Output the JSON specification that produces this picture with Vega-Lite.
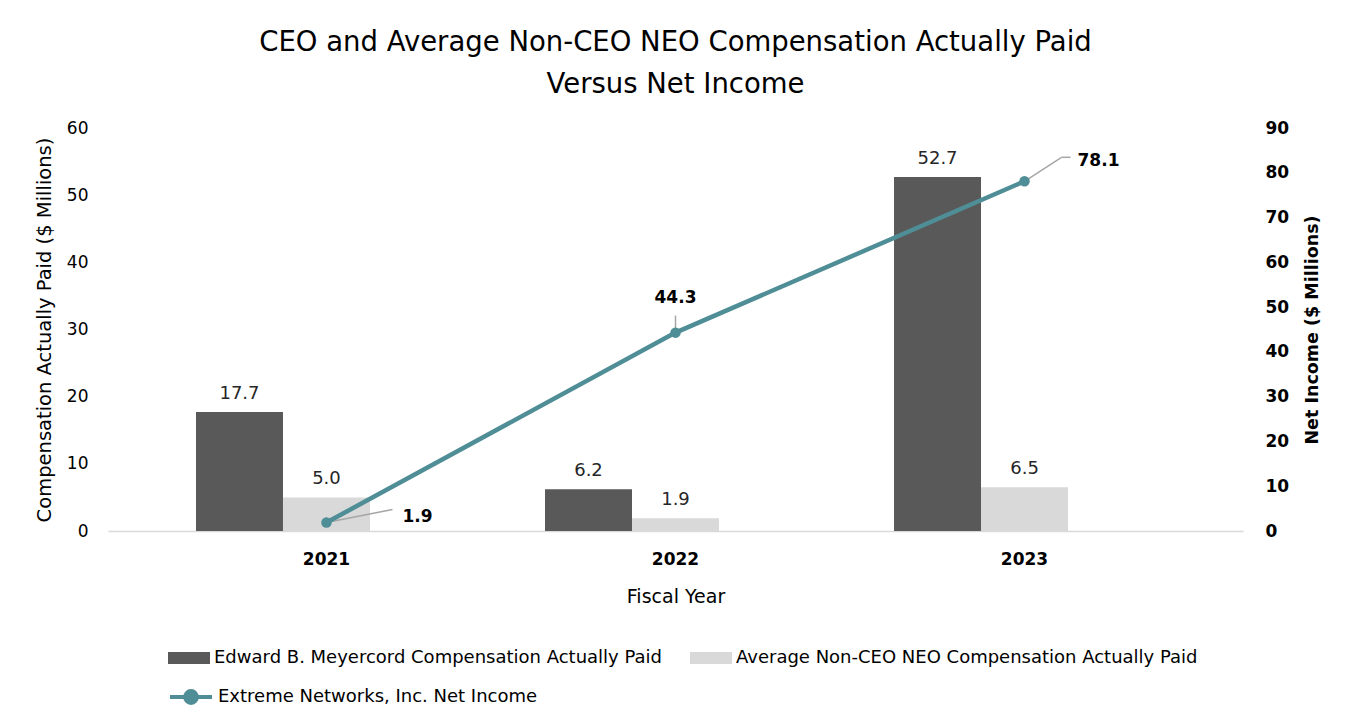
{
  "$schema": "https://vega.github.io/schema/vega-lite/v6.json",
  "width": 1135,
  "height": 403,
  "autosize": {"type": "none"},
  "padding": {"left": 108, "top": 128, "right": 110, "bottom": 196},
  "background": "white",
  "title": {
    "text": ["CEO and Average Non-CEO NEO Compensation Actually Paid", "Versus Net Income"],
    "fontSize": 27.5,
    "fontWeight": "normal",
    "color": "#000000",
    "lineHeight": 42,
    "anchor": "middle",
    "offset": 21
  },
  "datasets": {
    "comp": [
      {"year": "2021", "series": "Edward B. Meyercord Compensation Actually Paid", "value": 17.7},
      {"year": "2021", "series": "Average Non-CEO NEO Compensation Actually Paid", "value": 5.0},
      {"year": "2022", "series": "Edward B. Meyercord Compensation Actually Paid", "value": 6.2},
      {"year": "2022", "series": "Average Non-CEO NEO Compensation Actually Paid", "value": 1.9},
      {"year": "2023", "series": "Edward B. Meyercord Compensation Actually Paid", "value": 52.7},
      {"year": "2023", "series": "Average Non-CEO NEO Compensation Actually Paid", "value": 6.5}
    ],
    "ni": [
      {"year": "2021", "ni": 1.9},
      {"year": "2022", "ni": 44.3},
      {"year": "2023", "ni": 78.1}
    ]
  },
  "encoding": {
    "x": {
      "field": "year",
      "type": "nominal",
      "scale": {"paddingInner": 0, "paddingOuter": 0.126},
      "axis": {
        "title": "Fiscal Year",
        "labelAngle": 0,
        "labelFontSize": 17,
        "labelFontWeight": "bold",
        "labelColor": "#000000",
        "labelPadding": 20,
        "ticks": false,
        "domain": true,
        "domainColor": "#d9d9d9",
        "domainWidth": 1.5,
        "titleFontSize": 19,
        "titleFontWeight": "normal",
        "titleColor": "#000000",
        "titlePadding": 20
      }
    }
  },
  "layer": [
    {
      "data": {"name": "comp"},
      "encoding": {
        "y": {
          "field": "value",
          "type": "quantitative",
          "scale": {"domain": [0, 60]},
          "axis": {
            "title": "Compensation Actually Paid ($ Millions)",
            "orient": "left",
            "values": [0, 10, 20, 30, 40, 50, 60],
            "grid": false,
            "domain": false,
            "ticks": false,
            "labelFontSize": 17,
            "labelColor": "#000000",
            "labelPadding": 20,
            "titleFontSize": 19.5,
            "titleFontWeight": "normal",
            "titleColor": "#000000",
            "titlePadding": 12
          }
        },
        "xOffset": {
          "field": "series",
          "type": "nominal",
          "scale": {
            "domain": ["Edward B. Meyercord Compensation Actually Paid", "Average Non-CEO NEO Compensation Actually Paid", "pad"],
            "paddingInner": 0,
            "paddingOuter": 0.506
          }
        }
      },
      "layer": [
        {
          "mark": {"type": "bar"},
          "encoding": {
            "color": {
              "field": "series",
              "type": "nominal",
              "scale": {
                "domain": ["Edward B. Meyercord Compensation Actually Paid", "Average Non-CEO NEO Compensation Actually Paid"],
                "range": ["#595959", "#d9d9d9"]
              },
              "legend": {
                "title": null,
                "orient": "none",
                "legendX": 60,
                "legendY": 509,
                "direction": "horizontal",
                "columns": 2,
                "columnPadding": 28,
                "symbolType": "M-1,-0.29H1V0.29H-1Z",
                "symbolSize": 1764,
                "symbolStrokeWidth": 0,
                "labelFontSize": 18,
                "labelColor": "#000000",
                "labelOffset": 4,
                "labelLimit": 800,
                "padding": 0
              }
            }
          }
        },
        {
          "mark": {"type": "text", "baseline": "bottom", "dy": -9, "fontSize": 18, "color": "#262626"},
          "encoding": {
            "text": {"field": "value", "type": "quantitative", "format": ".1f"}
          }
        }
      ]
    },
    {
      "data": {"name": "ni"},
      "encoding": {
        "y": {
          "field": "ni",
          "type": "quantitative",
          "scale": {"domain": [0, 90]},
          "axis": {
            "title": "Net Income ($ Millions)",
            "orient": "right",
            "values": [0, 10, 20, 30, 40, 50, 60, 70, 80, 90],
            "grid": false,
            "domain": false,
            "ticks": false,
            "labelFontSize": 17,
            "labelFontWeight": "bold",
            "labelColor": "#000000",
            "labelPadding": 22,
            "titleFontSize": 17.5,
            "titleFontWeight": "bold",
            "titleColor": "#000000",
            "titleAngle": 270,
            "titlePadding": 33
          }
        }
      },
      "layer": [
        {
          "transform": [{"filter": "datum.year == '2021'"}],
          "mark": {"type": "rule", "color": "#a6a6a6", "strokeWidth": 1.5, "x2Offset": 66, "y2Offset": -13},
          "encoding": {"x2": {"field": "year"}, "y2": {"field": "ni"}}
        },
        {
          "transform": [{"filter": "datum.year == '2022'"}],
          "mark": {"type": "rule", "color": "#a6a6a6", "strokeWidth": 1.5, "yOffset": -4, "y2Offset": -17},
          "encoding": {"y2": {"field": "ni"}}
        },
        {
          "transform": [{"filter": "datum.year == '2023'"}],
          "mark": {"type": "rule", "color": "#a6a6a6", "strokeWidth": 1.5, "x2Offset": 37, "y2Offset": -24},
          "encoding": {"x2": {"field": "year"}, "y2": {"field": "ni"}}
        },
        {
          "transform": [{"filter": "datum.year == '2023'"}],
          "mark": {"type": "rule", "color": "#a6a6a6", "strokeWidth": 1.5, "xOffset": 37, "x2Offset": 46, "yOffset": -24, "y2Offset": -24},
          "encoding": {"x2": {"field": "year"}, "y2": {"field": "ni"}}
        },
        {
          "mark": {"type": "line", "strokeWidth": 4.5},
          "encoding": {
            "stroke": {
              "datum": "Extreme Networks, Inc. Net Income",
              "type": "nominal",
              "scale": {"range": ["#4f8e96"]},
              "legend": {
                "title": null,
                "orient": "none",
                "legendX": 60,
                "legendY": 546,
                "symbolType": "M-1,0H1M-0.28,0A0.28,0.28,0,1,1,0.28,0A0.28,0.28,0,1,1,-0.28,0Z",
                "symbolSize": 1764,
                "symbolStrokeWidth": 4,
                "symbolFillColor": "#4f8e96",
                "labelFontSize": 18,
                "labelColor": "#000000",
                "labelOffset": 4,
                "labelLimit": 800,
                "padding": 0
              }
            }
          }
        },
        {
          "mark": {"type": "point", "filled": true, "size": 110, "color": "#4f8e96", "opacity": 1}
        },
        {
          "transform": [{"filter": "datum.year == '2021'"}],
          "mark": {"type": "text", "align": "left", "baseline": "middle", "dx": 76, "dy": -5, "fontSize": 17, "fontWeight": "bold", "color": "#000000"},
          "encoding": {"text": {"field": "ni", "type": "quantitative", "format": ".1f"}}
        },
        {
          "transform": [{"filter": "datum.year == '2022'"}],
          "mark": {"type": "text", "align": "center", "baseline": "middle", "dy": -35, "fontSize": 17, "fontWeight": "bold", "color": "#000000"},
          "encoding": {"text": {"field": "ni", "type": "quantitative", "format": ".1f"}}
        },
        {
          "transform": [{"filter": "datum.year == '2023'"}],
          "mark": {"type": "text", "align": "left", "baseline": "middle", "dx": 53, "dy": -20, "fontSize": 17, "fontWeight": "bold", "color": "#000000"},
          "encoding": {"text": {"field": "ni", "type": "quantitative", "format": ".1f"}}
        }
      ]
    }
  ],
  "resolve": {"scale": {"y": "independent"}},
  "config": {
    "font": "DejaVu Sans",
    "view": {"stroke": null}
  }
}
